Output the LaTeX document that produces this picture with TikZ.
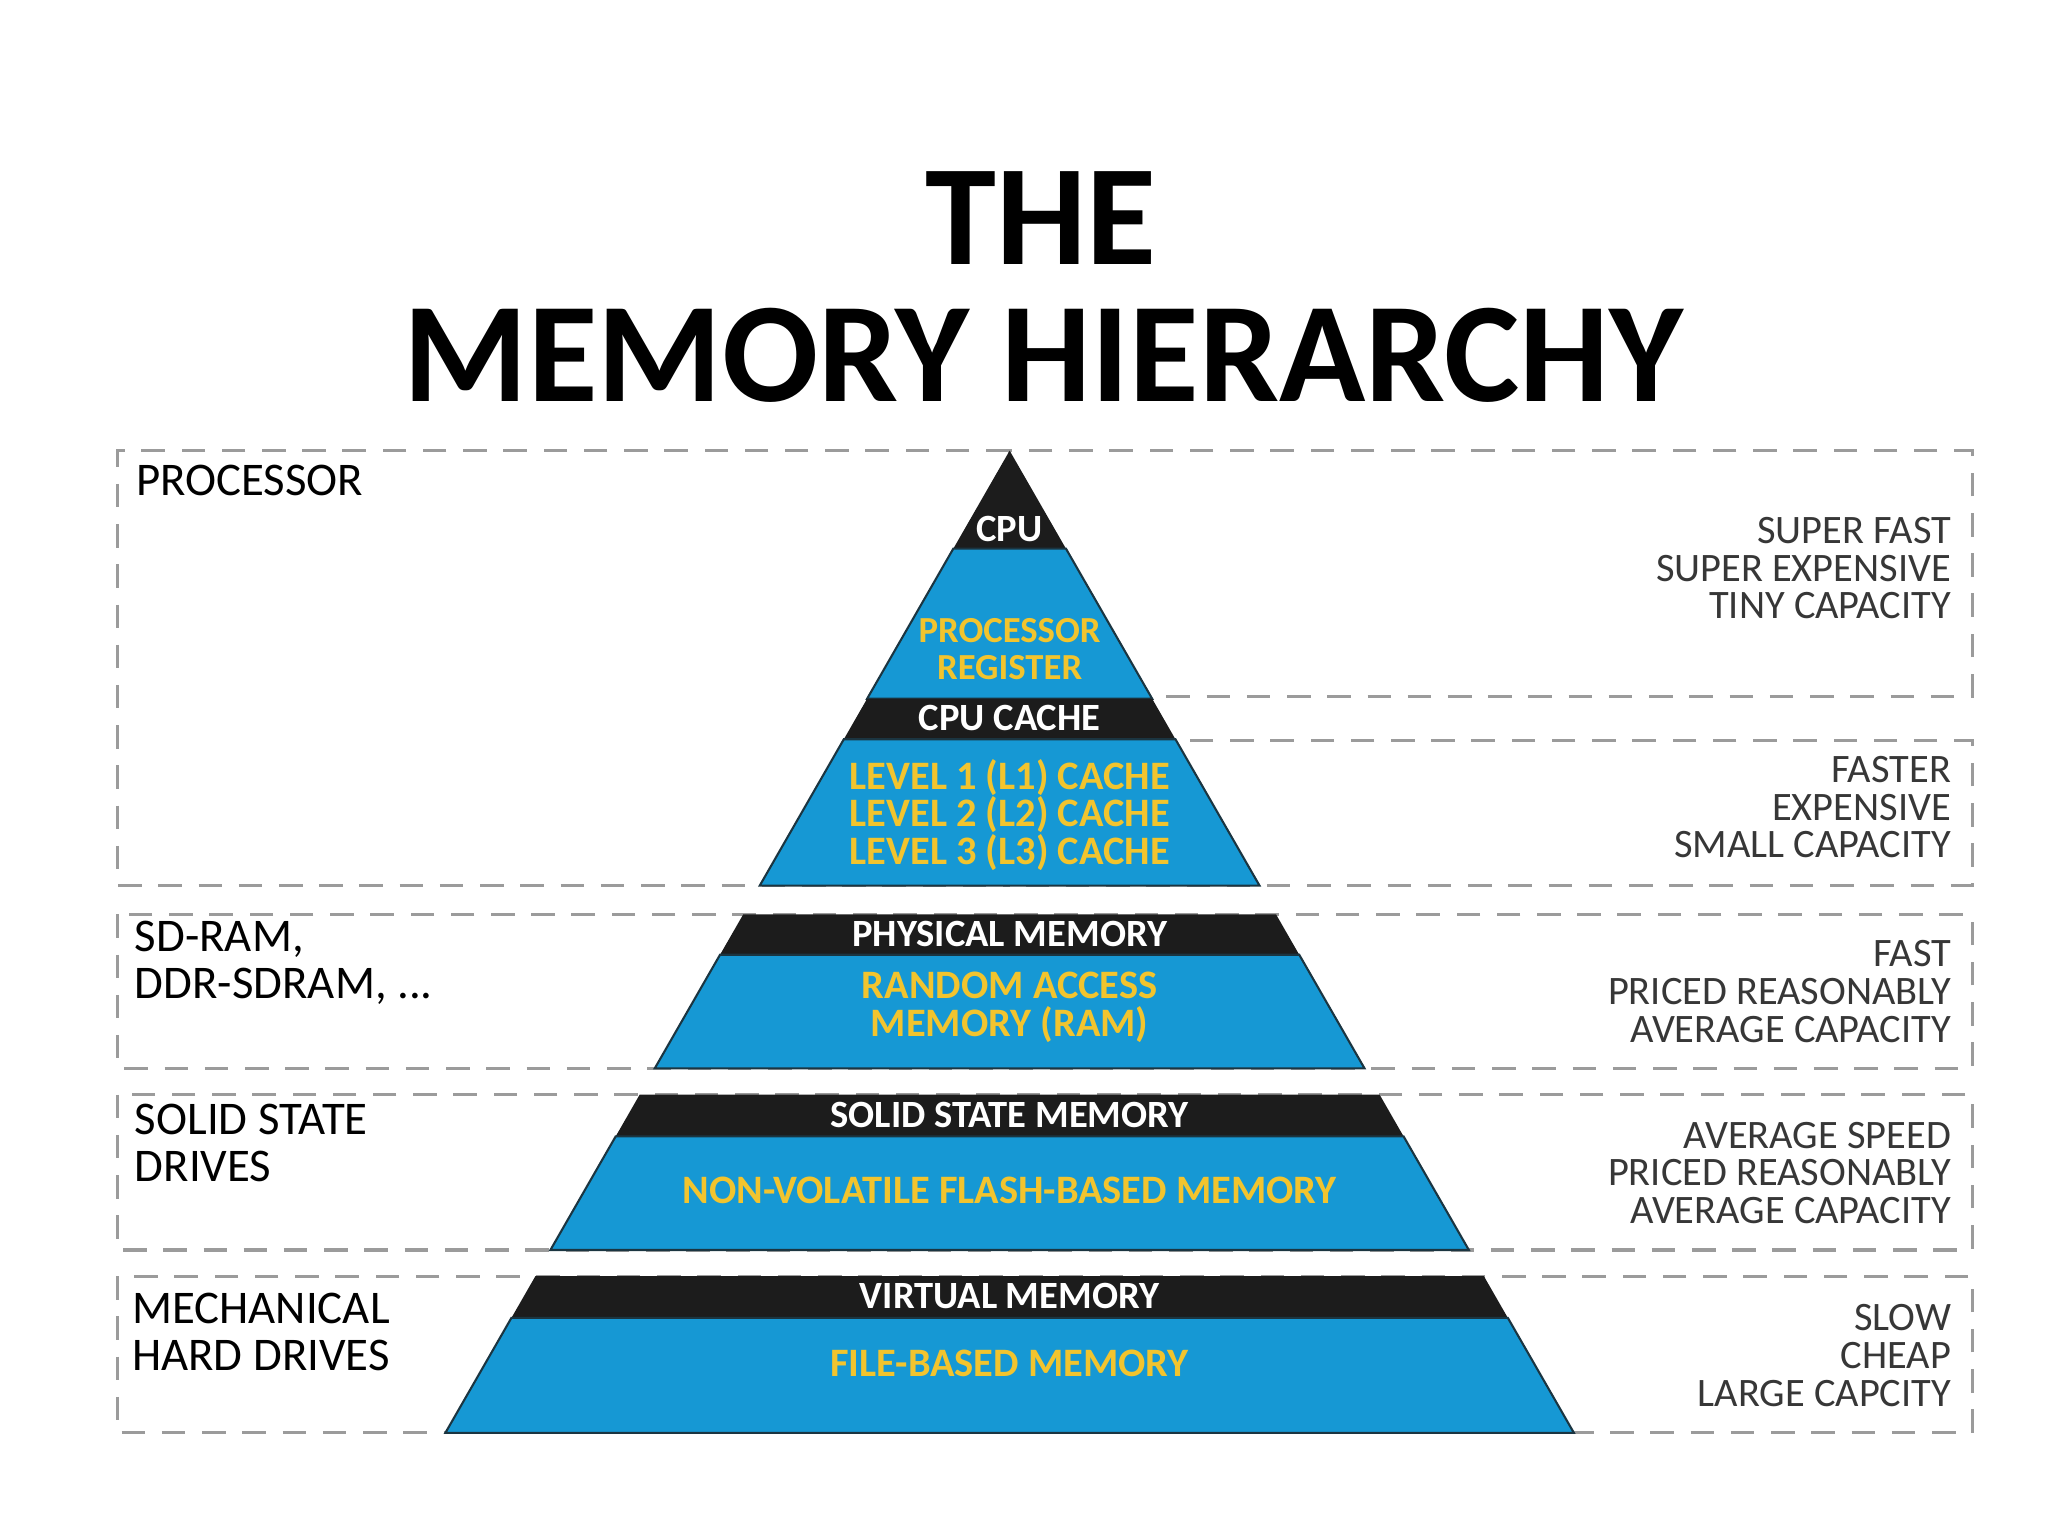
\documentclass[tikz,border=0pt]{standalone}
\usepackage{fontspec}
\setmainfont{Carlito}
\usetikzlibrary{calc}
\definecolor{memblue}{RGB}{22,152,212}
\definecolor{memyellow}{RGB}{242,196,46}
\definecolor{bandblack}{RGB}{28,28,28}
\definecolor{boxgray}{RGB}{155,155,155}
\definecolor{notegray}{RGB}{55,55,55}
\tikzset{
  box/.style={draw=boxgray,line width=0.6mm,dash pattern=on 4.5mm off 3.2mm},
  blackband/.style={fill=bandblack},
  blueband/.style={fill=memblue,draw=bandblack!80!memblue,line width=0.4mm},
  bandtext/.style={text=white,inner sep=0pt,font=\fontsize{21}{20.6}\selectfont\bfseries},
  infotext/.style={text=memyellow,inner sep=0pt,align=center,font=\fontsize{22}{20.6}\selectfont\bfseries},
  leftnote/.style={anchor=west,inner sep=0pt,align=left,font=\fontsize{25.5}{25.6}\selectfont},
  rightnote/.style={anchor=east,inner sep=0pt,align=right,text=notegray,font=\fontsize{22}{20.6}\selectfont},
}
% slice of the pyramid between two heights
\newcommand{\memband}[3]{%
  \path[#3] ($(apex)!{(#1-345)/752}!(bl)$) -- ($(apex)!{(#1-345)/752}!(br)$)
    -- ($(apex)!{(#2-345)/752}!(br)$) -- ($(apex)!{(#2-345)/752}!(bl)$) -- cycle;}

\begin{document}
\begin{tikzpicture}[x=0.25mm,y=-0.25mm]
\useasboundingbox (0,0) rectangle (1568,1176);
\coordinate (apex) at (773,345);
\coordinate (bl) at (341,1097);
\coordinate (br) at (1205,1097);

\node[inner sep=0pt,font=\fontsize{78}{78}\selectfont\bfseries] (title1) at (797,167) {THE};
\node[inner sep=0pt,font=\fontsize{77.5}{78}\selectfont\bfseries] (title2) at (799,272) {MEMORY HIERARCHY};

% dashed frames
\draw[box] (773,345) -- (90,345) -- (90,678) -- (773,678);
\draw[box] (773,345) rectangle (1510,533);
\draw[box] (773,567) rectangle (1510,678);
\draw[box] (90,700) rectangle (1510,818);
\draw[box] (90,838) rectangle (1510,957);
\draw[box] (90,977) rectangle (1510,1097);

% pyramid
\memband{345}{420}{blackband}
\memband{420}{535}{blueband}
\memband{535}{566}{blackband}
\memband{566}{678}{blueband}
\memband{700}{731}{blackband}
\memband{731}{818}{blueband}
\memband{838}{870}{blackband}
\memband{870}{957}{blueband}
\memband{977}{1009}{blackband}
\memband{1009}{1097}{blueband}

\node[bandtext] (tcpu) at (773,405) {CPU};
\node[infotext,font=\fontsize{20}{20.6}\selectfont\bfseries] (treg) at (773,497) {PROCESSOR\\REGISTER};
\node[bandtext] (tcache) at (773,550) {CPU CACHE};
\node[infotext] (tlevels) at (773,624) {LEVEL 1 (L1) CACHE\\LEVEL 2 (L2) CACHE\\LEVEL 3 (L3) CACHE};
\node[bandtext] (tphys) at (773,715) {PHYSICAL MEMORY};
\node[infotext] (tram) at (773,771) {RANDOM ACCESS\\MEMORY (RAM)};
\node[bandtext] (tssd) at (773,854) {SOLID STATE MEMORY};
\node[infotext] (tflash) at (773,911) {NON-VOLATILE FLASH-BASED MEMORY};
\node[bandtext] (tvirt) at (773,992) {VIRTUAL MEMORY};
\node[infotext] (tfile) at (773,1044) {FILE-BASED MEMORY};

\node[leftnote] (lproc) at (104,368) {PROCESSOR};
\node[leftnote] (lram) at (103,737) {SD-RAM,\\DDR-SDRAM, ...};
\node[leftnote] (lssd) at (103,875) {SOLID STATE\\DRIVES};
\node[leftnote] (lhdd) at (101,1020) {MECHANICAL\\HARD DRIVES};

\node[rightnote] (rproc) at (1494,435) {SUPER FAST\\SUPER EXPENSIVE\\TINY CAPACITY};
\node[rightnote] (rcache) at (1494,618) {FASTER\\EXPENSIVE\\SMALL CAPACITY};
\node[rightnote] (rram) at (1494,759) {FAST\\PRICED REASONABLY\\AVERAGE CAPACITY};
\node[rightnote] (rssd) at (1494,898) {AVERAGE SPEED\\PRICED REASONABLY\\AVERAGE CAPACITY};
\node[rightnote] (rhdd) at (1494,1038) {SLOW\\CHEAP\\LARGE CAPCITY};
\end{tikzpicture}
\end{document}
